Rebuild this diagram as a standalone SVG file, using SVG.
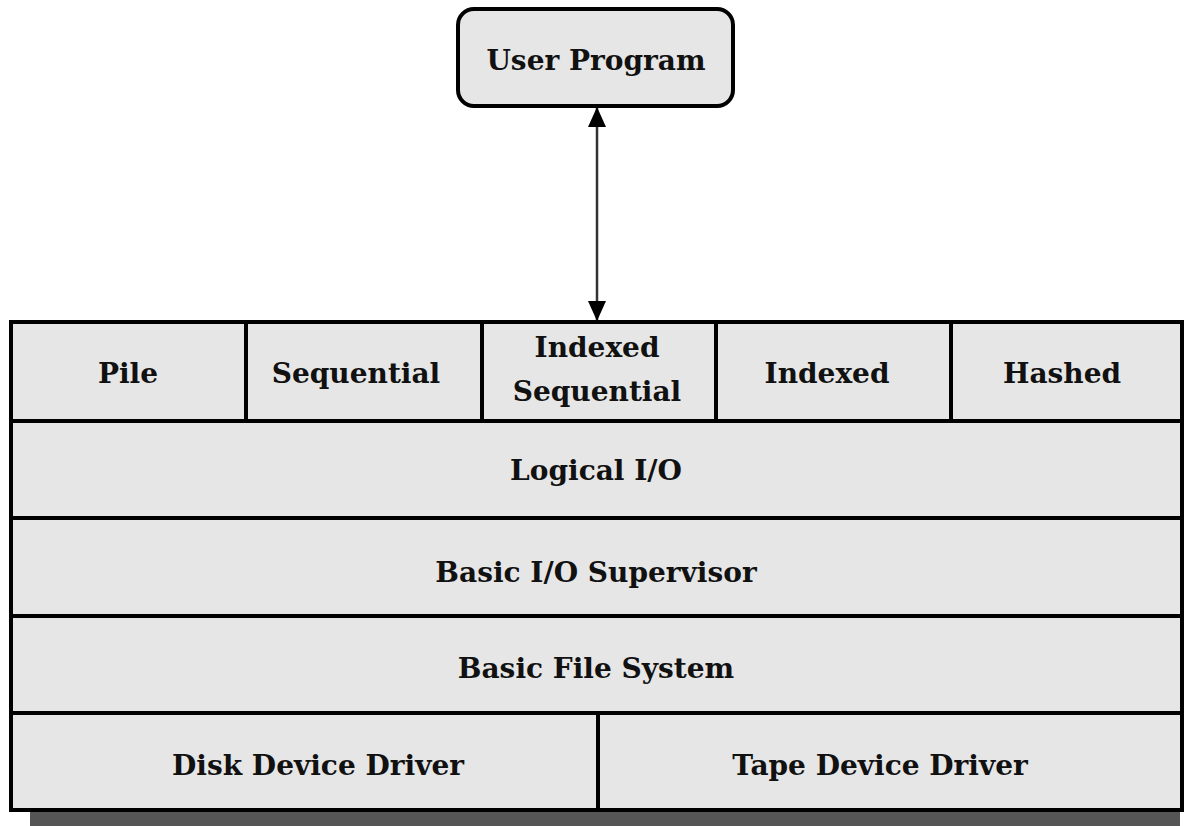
<svg xmlns="http://www.w3.org/2000/svg" width="1184" height="826" viewBox="0 0 1184 826">
<style>
.cell{fill:#e6e6e6;stroke:#000;stroke-width:4}
.t{font-family:"DejaVu Serif","Liberation Serif",serif;font-weight:bold;font-size:28px;fill:#111;text-anchor:middle;dominant-baseline:central}
</style>
<defs>
<marker id="ah" markerWidth="20" markerHeight="18" refX="19" refY="9" orient="auto-start-reverse" markerUnits="userSpaceOnUse" viewBox="0 0 20 18">
<path d="M0,0 L20,9 L0,18 Z" fill="#000"/>
</marker>
</defs>
<rect x="0" y="0" width="1184" height="826" fill="#fff"/>
<rect x="30" y="812" width="1150" height="14" fill="#555"/>
<g id="user-program">
<rect class="cell" x="458" y="9" width="275" height="97" rx="16"/>
<text class="t" x="596" y="60">User Program</text>
</g>
<g id="pile"><rect class="cell" x="11" y="322" width="235" height="99"/><text class="t" x="128" y="373">Pile</text></g>
<g id="sequential"><rect class="cell" x="246" y="322" width="236" height="99"/><text class="t" x="356" y="373">Sequential</text></g>
<g id="indexed-sequential"><rect class="cell" x="482" y="322" width="234" height="99"/><text class="t" x="597" y="347">Indexed</text><text class="t" x="597" y="391">Sequential</text></g>
<g id="indexed"><rect class="cell" x="716" y="322" width="235" height="99"/><text class="t" x="827" y="373">Indexed</text></g>
<g id="hashed"><rect class="cell" x="951" y="322" width="231" height="99"/><text class="t" x="1062" y="373">Hashed</text></g>
<g id="logical-io"><rect class="cell" x="11" y="421" width="1171" height="97"/><text class="t" x="596" y="470">Logical I/O</text></g>
<g id="basic-io-supervisor"><rect class="cell" x="11" y="518" width="1171" height="98"/><text class="t" x="596" y="572">Basic I/O Supervisor</text></g>
<g id="basic-file-system"><rect class="cell" x="11" y="616" width="1171" height="97"/><text class="t" x="596" y="668">Basic File System</text></g>
<g id="disk-device-driver"><rect class="cell" x="11" y="713" width="587" height="97"/><text class="t" x="318" y="765">Disk Device Driver</text></g>
<g id="tape-device-driver"><rect class="cell" x="598" y="713" width="584" height="97"/><text class="t" x="880" y="765">Tape Device Driver</text></g>
<g id="connectors">
<line x1="597" y1="108" x2="597" y2="320" stroke="#333" stroke-width="2.5" marker-start="url(#ah)" marker-end="url(#ah)"/>
</g>
</svg>
